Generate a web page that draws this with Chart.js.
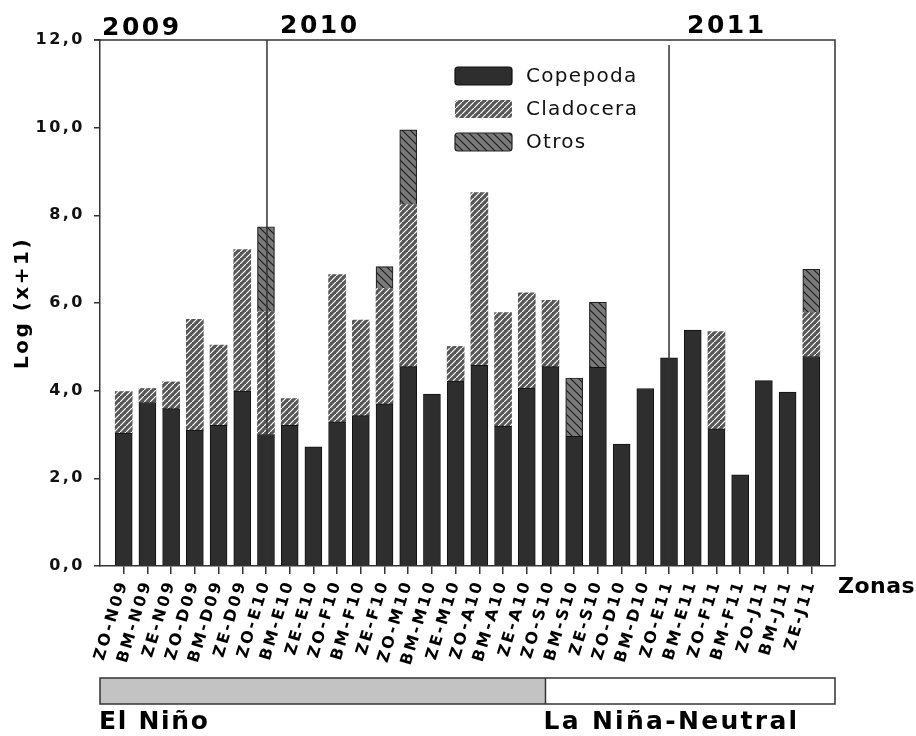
<!DOCTYPE html>
<html>
<head>
<meta charset="utf-8">
<script src="https://cdn.jsdelivr.net/npm/chart.js@4"></script>
<style>
  body { margin: 0; background: #fff; }
</style>
</head>
<body>
<canvas id="myChart" width="916" height="736"></canvas>
<script>
// Data
const categories = ["ZO-N09", "BM-N09", "ZE-N09", "ZO-D09", "BM-D09", "ZE-D09",
  "ZO-E10", "BM-E10", "ZE-E10", "ZO-F10", "BM-F10", "ZE-F10", "ZO-M10", "BM-M10",
  "ZE-M10", "ZO-A10", "BM-A10", "ZE-A10", "ZO-S10", "BM-S10", "ZE-S10", "ZO-D10",
  "BM-D10", "ZO-E11", "BM-E11", "ZO-F11", "BM-F11", "ZO-J11", "BM-J11", "ZE-J11"];
const copepoda = [3.03, 3.73, 3.59, 3.10, 3.21, 3.99, 3.00, 3.21, 2.72, 3.29, 3.43, 3.70,
  4.55, 3.92, 4.22, 4.58, 3.19, 4.06, 4.55, 2.96, 4.53, 2.78, 4.05, 4.75, 5.38, 3.13,
  2.08, 4.23, 3.97, 4.78];
const cladocera = [0.95, 0.32, 0.61, 2.53, 1.83, 3.23, 2.80, 0.61, null, 3.36, 2.18, 2.63,
  3.69, null, 0.79, 3.94, 2.59, 2.17, 1.51, null, null, null, null, null, null, 2.22,
  null, null, null, 1.00];
const otros = [null, null, null, null, null, null, 1.94, null, null, null, null, 0.50,
  1.71, null, null, null, null, null, null, 1.33, 1.49, null, null, null, null, null,
  null, null, null, 0.99];
const yTicks = [0, 2, 4, 6, 8, 10, 12];
const years = ["2009", "2010", "2011"];
const periods = ["El Niño", "La Niña-Neutral"];

// one empty slot on each side of the bars
const labels = [""].concat(categories, [""]);
function pad(arr) { return [null].concat(arr, [null]); }

function makeHatch(bg, fg, size, forward, lw) {
  const c = document.createElement("canvas");
  c.width = size; c.height = size;
  const g = c.getContext("2d");
  g.fillStyle = bg;
  g.fillRect(0, 0, size, size);
  g.strokeStyle = fg;
  g.lineWidth = lw;
  g.beginPath();
  if (forward) {
    g.moveTo(-size, size * 2); g.lineTo(size * 2, -size);
    g.moveTo(-size * 2, size); g.lineTo(size, -size * 2);
    g.moveTo(0, size * 3); g.lineTo(size * 3, 0);
  } else {
    g.moveTo(-size, -size); g.lineTo(size * 2, size * 2);
    g.moveTo(0, -size); g.lineTo(size * 2, size);
    g.moveTo(-size, 0); g.lineTo(size, size * 2);
  }
  g.stroke();
  return g.createPattern(c, "repeat");
}

const cladoHatch = makeHatch("#575757", "#ffffff", 6, true, 1.2);
const otrosHatch = makeHatch("#7a7a7a", "#1e1e1e", 8, false, 1.2);
const copeColor = "#2e2e2e";

const decorations = {
  id: "decorations",
  beforeDraw(chart) {
    chart.ctx.letterSpacing = "2.5px";
  },
  afterDatasetsDraw(chart) {
    const { ctx, chartArea: a, scales: { x } } = chart;
    ctx.save();
    ctx.strokeStyle = "#333";
    ctx.lineWidth = 1.5;
    ctx.beginPath();
    ctx.moveTo(a.left - 6, a.top);
    ctx.lineTo(a.right, a.top);
    ctx.lineTo(a.right, a.bottom);
    const s1 = x.getPixelForValue(labels.indexOf("ZO-E10"));
    const s2 = x.getPixelForValue(labels.indexOf("ZO-E11"));
    ctx.moveTo(s1 + 1, a.top);
    ctx.lineTo(s1 + 1, a.bottom);
    ctx.moveTo(s2, a.top + 5);
    ctx.lineTo(s2, a.bottom);
    ctx.stroke();
    ctx.restore();
  },
  afterDraw(chart) {
    const { ctx, chartArea: a, scales: { x } } = chart;
    ctx.save();

    // legend
    const items = [
      { text: "Copepoda", fill: copeColor, border: "#111", y: 67 },
      { text: "Cladocera", fill: cladoHatch, border: null, y: 100 },
      { text: "Otros", fill: otrosHatch, border: "#222", y: 133 }
    ];
    ctx.letterSpacing = "1.3px";
    ctx.font = "20px 'DejaVu Sans'";
    ctx.textBaseline = "middle";
    ctx.textAlign = "left";
    items.forEach(function (it) {
      ctx.beginPath();
      ctx.roundRect(455, it.y, 57, 18, 3);
      ctx.fillStyle = it.fill;
      ctx.fill();
      if (it.border) {
        ctx.strokeStyle = it.border;
        ctx.lineWidth = 1.2;
        ctx.stroke();
      }
      ctx.fillStyle = "#111";
      ctx.fillText(it.text, 526, it.y + 10);
    });

    // years
    ctx.fillStyle = "#000";
    ctx.textBaseline = "alphabetic";
    ctx.font = "bold 25px 'DejaVu Sans'";
    ctx.letterSpacing = "2.5px";
    ctx.fillText(years[0], 102, 35);
    ctx.fillText(years[1], 280, 33);
    ctx.fillText(years[2], 687, 33);

    // axis name
    ctx.font = "bold 22px 'DejaVu Sans'";
    ctx.letterSpacing = "0.5px";
    ctx.fillText("Zonas", 838, 593);

    // ENSO band
    const split = x.getPixelForValue(labels.indexOf("ZO-S10")) - 5;
    ctx.fillStyle = "#c3c3c3";
    ctx.fillRect(a.left, 678, split - a.left, 26);
    ctx.strokeStyle = "#333";
    ctx.lineWidth = 1.5;
    ctx.strokeRect(a.left, 678, a.right - a.left, 26);
    ctx.beginPath();
    ctx.moveTo(split, 678);
    ctx.lineTo(split, 704);
    ctx.stroke();

    ctx.fillStyle = "#000";
    ctx.font = "bold 25px 'DejaVu Sans'";
    ctx.letterSpacing = "1.7px";
    ctx.fillText(periods[0], 99, 729);
    ctx.letterSpacing = "2.3px";
    ctx.fillText(periods[1], split - 2, 729);

    ctx.restore();
    ctx.letterSpacing = "0px";
  }
};

const ctx = document.getElementById("myChart").getContext("2d");
const myChart = new Chart(ctx, {
  type: "bar",
  data: {
    labels: labels,
    datasets: [
      {
        label: "Copepoda",
        data: pad(copepoda),
        backgroundColor: copeColor,
        borderColor: "#111",
        borderWidth: 1,
        barThickness: 17
      },
      {
        label: "Cladocera",
        data: pad(cladocera),
        backgroundColor: cladoHatch,
        borderWidth: 0,
        barThickness: 17
      },
      {
        label: "Otros",
        data: pad(otros),
        backgroundColor: otrosHatch,
        borderColor: "#222",
        borderWidth: 1.2,
        barThickness: 17
      }
    ]
  },
  options: {
    responsive: false,
    animation: false,
    layout: { padding: { top: 40, right: 81, bottom: 0, left: 0 } },
    plugins: {
      legend: { display: false },
      tooltip: { enabled: false }
    },
    scales: {
      x: {
        stacked: true,
        offset: false,
        afterFit(scale) { scale.height = 170; },
        grid: {
          offset: false,
          drawOnChartArea: false,
          tickLength: 8,
          tickColor: function (c) {
            return (c.index === 0 || c.index === labels.length - 1) ? "rgba(0,0,0,0)" : "#333";
          },
          lineWidth: 1.5
        },
        border: { display: true, color: "#333", width: 1.5 },
        ticks: {
          autoSkip: false,
          minRotation: 73,
          maxRotation: 73,
          padding: 4,
          color: "#000",
          font: { family: "DejaVu Sans", size: 16, weight: "bold" }
        }
      },
      y: {
        stacked: true,
        min: 0,
        max: 12,
        afterFit(scale) { scale.width = 100; },
        afterBuildTicks(scale) {
          scale.ticks = yTicks.map(function (v) { return { value: v }; });
        },
        grid: {
          drawOnChartArea: false,
          tickLength: 6,
          tickColor: "#333",
          lineWidth: 1.5
        },
        border: { display: true, color: "#333", width: 1.5 },
        ticks: {
          padding: 9,
          color: "#111",
          font: { family: "DejaVu Sans", size: 16, weight: "bold" },
          callback: function (v) { return v.toFixed(1).replace(".", ","); }
        },
        title: {
          display: true,
          text: "Log (x+1)",
          color: "#000",
          padding: { top: 11, bottom: 0 },
          font: { family: "DejaVu Sans", size: 20, weight: "bold" }
        }
      }
    }
  },
  plugins: [decorations]
});
</script>
</body>
</html>
